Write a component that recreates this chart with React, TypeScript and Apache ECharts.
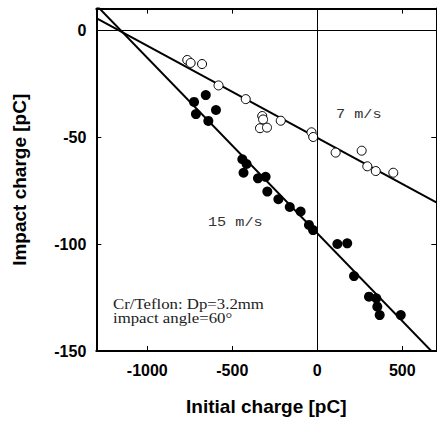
import React, { useEffect, useRef } from "react";
import * as echarts from "echarts";

// 7 m/s (open circles): [initial charge pC, impact charge pC]
const open7: number[][] = [
  [-765, -14.0], [-745, -15.4], [-678, -15.9], [-581, -25.9], [-421, -32.3],
  [-324, -40.2], [-319, -41.8], [-337, -45.9], [-296, -45.6], [-215, -42.4],
  [-34, -47.8], [-24, -50.0], [108, -57.3], [261, -56.4], [294, -63.7],
  [344, -65.9], [447, -66.7],
];

// 15 m/s (filled circles)
const filled15: number[][] = [
  [-656, -30.4], [-725, -33.6], [-596, -37.4], [-714, -39.3], [-641, -42.5],
  [-441, -60.4], [-416, -62.6], [-434, -66.7], [-349, -69.3], [-304, -68.6],
  [-294, -75.5], [-229, -79.1], [-162, -82.7], [-98, -84.8], [-49, -91.1],
  [-25, -93.5], [118, -100.0], [176, -99.7], [216, -115.0], [304, -124.6],
  [347, -125.4], [353, -129.3], [367, -133.2], [491, -133.2],
];

// fitted lines (end points)
const fit7: number[][] = [[-1300, 5.6], [700, -80.5]];
const fit15: number[][] = [[-1300, 11.6], [700, -152.4]];

const xTicks = [-1000, -500, 0, 500];
const yTicks = [0, -50, -100, -150];

const X_MIN = -1300, X_MAX = 700, Y_MIN = -150, Y_MAX = 10;

export default function App() {
  const ref = useRef<HTMLDivElement>(null);
  useEffect(() => {
    if (!ref.current) return;
    const chart = echarts.init(ref.current, null, { renderer: "svg" });
    const tickFont = {
      fontFamily: "Liberation Sans",
      fontWeight: "bold" as const,
      fontSize: 16,
      color: "#000",
    };
    const axisLine = { show: true, onZero: false, lineStyle: { color: "#000", width: 2 } };
    const axisTick = { show: true, inside: true, length: 5, lineStyle: { color: "#000", width: 1 } };
    const nameStyle = { fontFamily: "Liberation Sans", fontWeight: "bold", fontSize: 19, color: "#000" };
    chart.setOption({
      animation: false,
      backgroundColor: "#fff",
      grid: { left: 96.3, top: 8.6, width: 340, height: 342.4, containLabel: false },
      xAxis: [
        {
          type: "value",
          min: X_MIN,
          max: X_MAX,
          splitNumber: 4,
          position: "bottom",
          name: "Initial charge [pC]",
          nameLocation: "middle",
          nameGap: 46,
          nameTextStyle: nameStyle,
          axisLine,
          axisTick,
          splitLine: { show: false },
          axisLabel: {
            ...tickFont,
            margin: 11,
            showMinLabel: false,
            showMaxLabel: false,
            formatter: (v: number) => (xTicks.includes(v) ? String(v) : ""),
          },
        },
        {
          type: "value",
          min: X_MIN,
          max: X_MAX,
          splitNumber: 4,
          position: "top",
          axisLine,
          axisTick,
          splitLine: { show: false },
          axisLabel: { show: false },
        },
      ],
      yAxis: [
        {
          type: "value",
          min: Y_MIN,
          max: Y_MAX,
          interval: 50,
          position: "left",
          name: "Impact charge [pC]",
          nameLocation: "middle",
          nameGap: 67,
          nameTextStyle: nameStyle,
          axisLine,
          axisTick,
          splitLine: { show: false },
          axisLabel: {
            ...tickFont,
            margin: 10,
            showMaxLabel: false,
            formatter: (v: number) => (yTicks.includes(v) ? String(v) : ""),
          },
        },
        {
          type: "value",
          min: Y_MIN,
          max: Y_MAX,
          interval: 50,
          position: "right",
          axisLine,
          axisTick,
          splitLine: { show: false },
          axisLabel: { show: false },
        },
      ],
      series: [
        {
          type: "line",
          data: fit7,
          showSymbol: false,
          symbol: "none",
          lineStyle: { color: "#000", width: 2 },
          z: 2,
          markLine: {
            silent: true,
            symbol: "none",
            label: { show: false },
            lineStyle: { color: "#000", width: 1, type: "solid", opacity: 1 },
            data: [{ xAxis: 0 }, { yAxis: 0 }],
          },
        },
        {
          type: "line",
          data: fit15,
          showSymbol: false,
          symbol: "none",
          lineStyle: { color: "#000", width: 2 },
          z: 2,
        },
        {
          type: "scatter",
          data: open7,
          symbol: "circle",
          symbolSize: 9,
          itemStyle: { color: "#fff", borderColor: "#000", borderWidth: 1, opacity: 1 },
          z: 3,
        },
        {
          type: "scatter",
          data: filled15,
          symbol: "circle",
          symbolSize: 10,
          itemStyle: { color: "#000", opacity: 1 },
          z: 3,
        },
      ],
      graphic: [
        {
          type: "text",
          x: 336,
          y: 114,
          scaleX: 1.17,
          style: { text: "7 m/s", font: "13px 'Liberation Mono'", fill: "#333", verticalAlign: "middle" },
        },
        {
          type: "text",
          x: 208,
          y: 222,
          scaleX: 1.17,
          style: { text: "15 m/s", font: "13px 'Liberation Mono'", fill: "#333", verticalAlign: "middle" },
        },
        {
          type: "text",
          x: 113,
          y: 304,
          scaleX: 1.12,
          style: { text: "Cr/Teflon: Dp=3.2mm", font: "15px 'Liberation Serif'", fill: "#222", verticalAlign: "middle" },
        },
        {
          type: "text",
          x: 113,
          y: 318,
          scaleX: 1.12,
          style: { text: "impact angle=60°", font: "15px 'Liberation Serif'", fill: "#222", verticalAlign: "middle" },
        },
      ],
    });
    return () => chart.dispose();
  }, []);
  return (
    <div
      ref={ref}
      style={{ position: "fixed", left: 0, top: 0, width: 437, height: 421, background: "#fff" }}
    />
  );
}
